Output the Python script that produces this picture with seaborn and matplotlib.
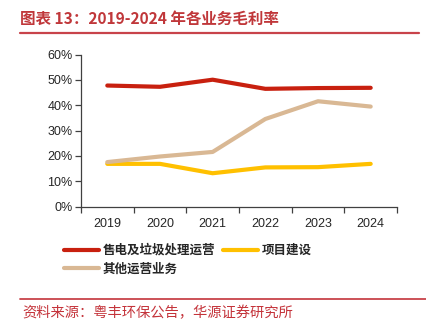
import matplotlib
matplotlib.use("Agg")
import matplotlib.pyplot as plt
import matplotlib.lines as mlines
import seaborn as sns
import pandas as pd

# Gross margin by business line, 2019-2024 (%)
years = ["2019", "2020", "2021", "2022", "2023", "2024"]
series_names = ["售电及垃圾处理运营", "项目建设", "其他运营业务"]
power_waste = [47.8, 47.3, 50.1, 46.5, 46.8, 46.9]
construction = [16.9, 16.9, 13.2, 15.5, 15.6, 16.9]
other_ops = [17.6, 19.8, 21.6, 34.6, 41.6, 39.5]
yticks = [0, 10, 20, 30, 40, 50, 60]
ytick_labels = ["0%", "10%", "20%", "30%", "40%", "50%", "60%"]

title_text = "图表 13：2019-2024 年各业务毛利率"
source_text = "资料来源：粤丰环保公告，华源证券研究所"

colors = ["#C8200F", "#FFC000", "#D9B894"]

df = pd.DataFrame({
    "year": years * 3,
    "margin": power_waste + construction + other_ops,
    "series": [series_names[0]] * 6 + [series_names[1]] * 6 + [series_names[2]] * 6,
})

sns.set_theme(style="white")
plt.rcParams["font.family"] = ["Liberation Sans", "Noto Sans CJK SC", "DejaVu Sans"]

fig = plt.figure(figsize=(4.26, 3.35), dpi=100)
ax = fig.add_axes([0.190, 0.383, 0.742, 0.454])

sns.lineplot(data=df, x="year", y="margin", hue="series", hue_order=series_names,
             palette=colors, linewidth=3.0, ax=ax, legend=False, sort=False)

ax.set_xlim(-0.5, len(years) - 0.5)
ax.set_ylim(0, 60)
ax.set_yticks(yticks)
ax.set_yticklabels(ytick_labels)
ax.set_xticks(range(len(years)))
ax.set_xticklabels(years)
ax.set_xticks([i - 0.5 for i in range(len(years) + 1)], minor=True)
ax.set_xlabel("")
ax.set_ylabel("")

for side in ["top", "right"]:
    ax.spines[side].set_visible(False)
for side in ["left", "bottom"]:
    ax.spines[side].set_color("#404040")
    ax.spines[side].set_linewidth(0.9)

ax.tick_params(axis="x", which="major", length=0, pad=8, labelsize=9, labelcolor="#262626")
ax.tick_params(axis="x", which="minor", length=4, width=0.9, color="#404040", direction="out", bottom=True)
ax.tick_params(axis="y", which="major", length=4, width=0.9, color="#404040", direction="out",
               left=True, pad=2, labelsize=9, labelcolor="#262626")

# Legend below the plot: columns fill top-down, so the third series sits under the first
order = [0, 2, 1]
handles = [mlines.Line2D([], [], color=colors[i], linewidth=3.0) for i in order]
labels = [series_names[i] for i in order]
fig.legend(handles, labels, loc="upper left", bbox_to_anchor=(0.150, 0.272),
           ncol=2, frameon=False, handlelength=2.8, handletextpad=0.3,
           columnspacing=0.6, labelspacing=0.45, borderaxespad=0, borderpad=0,
           prop={"family": ["Noto Sans CJK SC", "DejaVu Sans"], "size": 9, "weight": "semibold"})

# Title and source, with the red rules
fig.text(20 / 426, 1 - 19 / 335, title_text, color="#C0373A", fontsize=11.2, fontweight="bold",
         family=["Noto Sans CJK SC", "DejaVu Sans"], ha="left", va="center")
fig.add_artist(mlines.Line2D([20 / 426, 419 / 426], [1 - 33 / 335] * 2, color="#C8434A",
                             linewidth=1.6, transform=fig.transFigure))
fig.add_artist(mlines.Line2D([20 / 426, 426 / 426], [1 - 298.5 / 335] * 2, color="#C8434A",
                             linewidth=1.3, transform=fig.transFigure))
fig.text(22 / 426, 1 - 313 / 335, source_text, color="#C4333A", fontsize=10.3,
         family=["Noto Sans CJK SC", "DejaVu Sans"], ha="left", va="center")

fig.savefig("out.png", dpi=100)
